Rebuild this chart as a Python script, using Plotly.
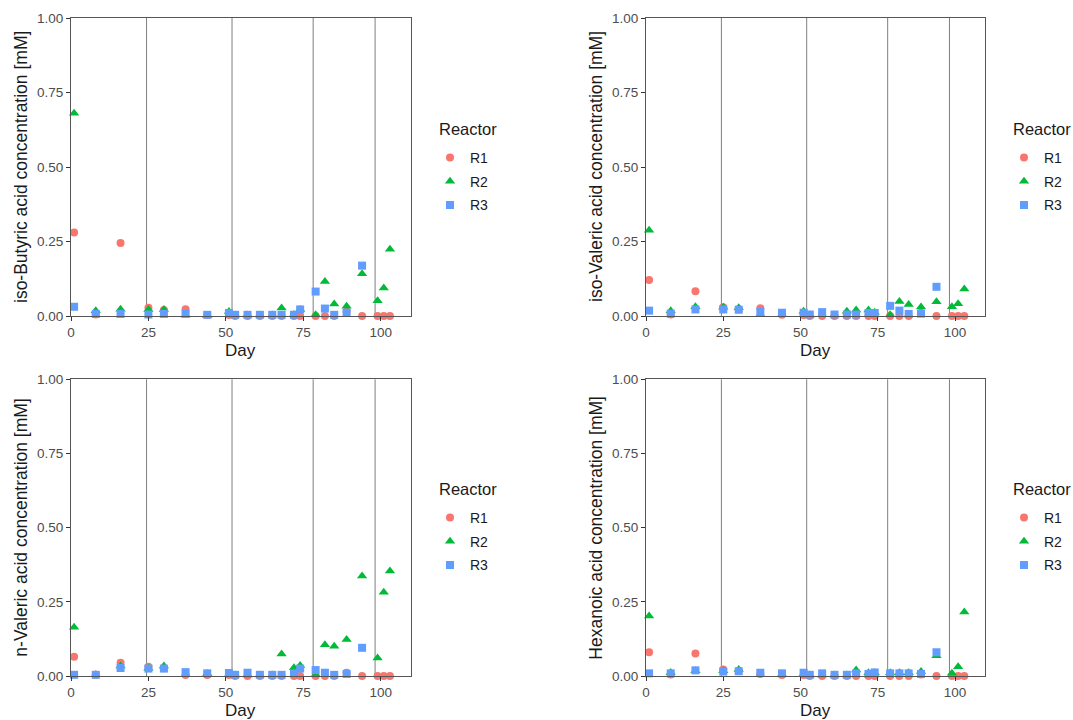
import plotly.graph_objects as go

# ---------------- data ----------------
days = [1, 8, 16, 25, 30, 37, 44, 51, 53, 57, 61, 65, 68, 72, 74, 79, 82, 85, 89, 94, 99, 101, 103]
days_r3 = days[:20]  # R3 sampled until day 94
phase_lines = [24.4, 52, 78.2, 98.2]

acids = ["iso-Butyric acid concentration [mM]", "iso-Valeric acid concentration [mM]",
         "n-Valeric acid concentration [mM]", "Hexanoic acid concentration [mM]"]

isobut_r1 = [0.28, 0.005, 0.245, 0.028, 0.02, 0.023, 0.003, 0.003, 0, 0, 0, 0, 0, 0, 0, 0, 0, 0, 0.015, 0, 0, 0, 0]
isobut_r2 = [0.68, 0.018, 0.023, 0.022, 0.022, 0.003, 0.002, 0.015, 0.003, 0.003, 0.003, 0.003, 0.027, 0.005, 0.022, 0.004, 0.116, 0.04, 0.033, 0.142, 0.051, 0.094, 0.224]
isobut_r3 = [0.031, 0.007, 0.007, 0.005, 0.007, 0.007, 0.004, 0.01, 0.004, 0.004, 0.004, 0.004, 0.004, 0.004, 0.022, 0.082, 0.025, 0.004, 0.011, 0.169]

isoval_r1 = [0.121, 0.005, 0.083, 0.029, 0.023, 0.026, 0.004, 0.003, 0, 0, 0, 0, 0, 0, 0, 0, 0, 0, 0.01, 0, 0, 0, 0]
isoval_r2 = [0.288, 0.018, 0.031, 0.029, 0.028, 0.005, 0.005, 0.016, 0.003, 0.004, 0.003, 0.016, 0.02, 0.02, 0.013, 0.004, 0.049, 0.039, 0.03, 0.048, 0.031, 0.041, 0.091]
isoval_r3 = [0.018, 0.008, 0.022, 0.022, 0.021, 0.014, 0.011, 0.011, 0.005, 0.013, 0.005, 0.005, 0.005, 0.01, 0.01, 0.034, 0.018, 0.007, 0.008, 0.098]

nval_r1 = [0.065, 0.004, 0.045, 0.031, 0.026, 0.003, 0.003, 0.003, 0, 0, 0, 0, 0, 0, 0, 0, 0, 0, 0.011, 0, 0, 0, 0]
nval_r2 = [0.164, 0.004, 0.034, 0.026, 0.034, 0.004, 0.008, 0.005, 0.003, 0.003, 0.003, 0.003, 0.074, 0.028, 0.035, 0.004, 0.105, 0.1, 0.123, 0.337, 0.061, 0.282, 0.354]
nval_r3 = [0.004, 0.004, 0.027, 0.025, 0.025, 0.013, 0.009, 0.01, 0.004, 0.011, 0.004, 0.004, 0.004, 0.009, 0.025, 0.02, 0.011, 0.004, 0.007, 0.095]

hex_r1 = [0.08, 0.005, 0.076, 0.022, 0.017, 0.007, 0.003, 0.003, 0, 0, 0, 0, 0, 0, 0, 0, 0, 0, 0.005, 0, 0, 0, 0]
hex_r2 = [0.202, 0.012, 0.018, 0.018, 0.022, 0.004, 0.006, 0.006, 0.003, 0.003, 0.003, 0.003, 0.02, 0.011, 0.011, 0.011, 0.011, 0.011, 0.015, 0.068, 0.009, 0.031, 0.216]
hex_r3 = [0.009, 0.009, 0.019, 0.015, 0.016, 0.011, 0.009, 0.011, 0.004, 0.009, 0.004, 0.004, 0.009, 0.007, 0.012, 0.009, 0.009, 0.009, 0.007, 0.08]

reactors = ["R1", "R2", "R3"]
legend_title = "Reactor"
y_ticks = [0, 0.25, 0.5, 0.75, 1.0]
y_ticklabels = ["0.00", "0.25", "0.50", "0.75", "1.00"]
x_ticks = [0, 25, 50, 75, 100]

panels = [
    (isobut_r1, isobut_r2, isobut_r3),
    (isoval_r1, isoval_r2, isoval_r3),
    (nval_r1, nval_r2, nval_r3),
    (hex_r1, hex_r2, hex_r3),
]

# ---------------- style ----------------
W, H = 1073, 720
colors = ["#F8766D", "#00BA38", "#619CFF"]
symbols = ["circle", "triangle-up", "square"]
FONT = "Liberation Sans, Arial, sans-serif"
TXT = "#1a1a1a"

# panel boxes in pixels (left, right, top, bottom)
boxes = [(71, 410.7, 18, 316), (646, 985, 18, 316),
         (71, 410.7, 379.3, 676), (646, 985, 379.3, 676)]
legend_pos = [(430, 129), (1004, 129), (430, 489), (1004, 489)]  # title centre y

fig = go.Figure()
layout = {}
for i, (vals, box) in enumerate(zip(panels, boxes)):
    n = "" if i == 0 else str(i + 1)
    xa, ya = "x" + n, "y" + n
    leg = "legend" + n
    for j, r in enumerate(reactors):
        xs = days_r3 if j == 2 else days
        fig.add_trace(go.Scatter(
            x=xs, y=vals[j], mode="markers", name=r,
            xaxis=xa, yaxis=ya, legend=leg, legendgroup=f"p{i}{r}",
            marker=dict(color=colors[j], symbol=symbols[j], size=8 if j != 1 else 9,
                        line=dict(width=0)),
            cliponaxis=False,
        ))
    l, r_, t, b = box
    layout["xaxis" + n] = dict(
        domain=[l / W, r_ / W], range=[0, 109.7], anchor=ya,
        tickvals=x_ticks, ticks="outside", ticklen=4, tickcolor="#333333",
        showline=True, linecolor="#555555", linewidth=1, mirror=True,
        showgrid=False, zeroline=False,
        tickfont=dict(size=13.5, color="#4D4D4D", family=FONT),
    )
    layout["yaxis" + n] = dict(
        domain=[1 - b / H, 1 - t / H], range=[0, 1], anchor=xa,
        tickvals=y_ticks, ticktext=y_ticklabels, ticks="outside", ticklen=4,
        tickcolor="#333333",
        showline=True, linecolor="#555555", linewidth=1, mirror=True,
        showgrid=False, zeroline=False,
        tickfont=dict(size=13.5, color="#4D4D4D", family=FONT),
    )
    lx, ly = legend_pos[i]
    layout[leg] = dict(
        x=lx / W, y=1 - (ly + 13) / H, xanchor="left", yanchor="top",
        font=dict(size=14, color=TXT, family=FONT),
        bgcolor="rgba(0,0,0,0)", tracegroupgap=2.5,
    )
    fig.add_annotation(text=legend_title, xref="paper", yref="paper",
                       x=(lx + 7) / W, y=1 - ly / H, xanchor="left", yanchor="middle",
                       showarrow=False, font=dict(size=16.5, color=TXT, family=FONT))
    for v in phase_lines:
        fig.add_shape(type="line", xref=xa, yref=ya + " domain", x0=v, x1=v, y0=0, y1=1,
                      line=dict(color="#7F7F7F", width=1), layer="below")
    # axis titles
    fig.add_annotation(text="Day", xref="paper", yref="paper",
                       x=(l + r_) / 2 / W, y=1 - (b + 34) / H, showarrow=False,
                       xanchor="center", yanchor="middle",
                       font=dict(size=17, color=TXT, family=FONT))
    fig.add_annotation(text=acids[i], xref="paper", yref="paper", textangle=-90,
                       x=(l - 50) / W, y=1 - (t + b) / 2 / H, showarrow=False,
                       xanchor="center", yanchor="middle",
                       font=dict(size=17.5, color=TXT, family=FONT))

fig.update_layout(
    width=W, height=H, margin=dict(l=0, r=0, t=0, b=0, autoexpand=False),
    plot_bgcolor="white", paper_bgcolor="white",
    font=dict(family=FONT), showlegend=True,
    **layout,
)
fig.write_html("out.html")
